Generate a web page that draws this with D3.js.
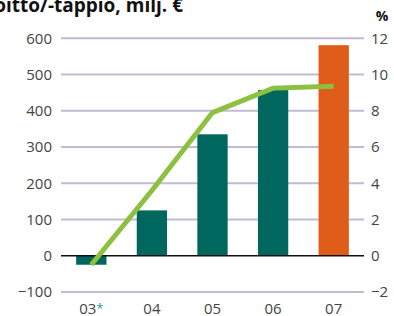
<!DOCTYPE html>
<html>
<head>
<meta charset="utf-8">
<script src="https://cdn.jsdelivr.net/npm/d3@7"></script>
<style>
  body { margin: 0; background: #fff; }
  svg { display: block; font-family: "Open Sans", sans-serif; }
</style>
</head>
<body>
<script>
const w = 394;
const h = 316;

const years = ["03", "04", "05", "06", "07"];
const profit = [-25, 125, 335, 457, 581];
const percent = [-0.5, 3.6, 7.9, 9.25, 9.35];
const leftTicks = [-100, 0, 100, 200, 300, 400, 500, 600];
const rightTicks = [-2, 0, 2, 4, 6, 8, 10, 12];

const teal = "#00675f";
const orange = "#df5c19";
const green = "#8cc040";
const grid = "#c2bbd2";
const tickColor = "#444";

const x = d3.scaleBand()
  .domain(years)
  .range([61, 364])
  .paddingInner(0.5)
  .paddingOuter(0.25);

const y = d3.scaleLinear().domain([-100, 600]).range([291.9, 38.3]);
const y2 = d3.scaleLinear().domain([-2, 12]).range([291.9, 38.3]);

const svg = d3.select("body").append("svg")
  .attr("width", w)
  .attr("height", h);

// title, cut at the top like the original
svg.append("text")
  .attr("x", 183)
  .attr("y", 12)
  .attr("text-anchor", "end")
  .attr("font-size", "19px")
  .attr("font-weight", "bold")
  .attr("fill", "#111")
  .text("Liikevoitto/-tappio, milj. €");

svg.append("text")
  .attr("x", 382)
  .attr("y", 21)
  .attr("text-anchor", "middle")
  .attr("font-size", "14px")
  .attr("font-weight", "bold")
  .attr("fill", "#111")
  .text("%");

// grid lines
svg.selectAll(".grid")
  .data(leftTicks.filter(d => d !== 0))
  .enter()
  .append("line")
  .attr("class", "grid")
  .attr("x1", 61)
  .attr("x2", 364)
  .attr("y1", d => y(d))
  .attr("y2", d => y(d))
  .attr("stroke", grid)
  .attr("stroke-width", 2);

// left axis labels
const yAxis = d3.axisLeft(y).tickValues(leftTicks).tickSize(0).tickPadding(0)
  .tickFormat(d => d < 0 ? "\u2212" + Math.abs(d) : d);
const gl = svg.append("g").attr("transform", "translate(52,0)").call(yAxis);
gl.select(".domain").remove();
gl.selectAll("text").attr("font-size", "15px").attr("fill", tickColor)
  .attr("font-family", "Open Sans, sans-serif");

// right axis labels
const yAxis2 = d3.axisRight(y2).tickValues(rightTicks).tickSize(0).tickPadding(0)
  .tickFormat(d => d < 0 ? "\u2212" + Math.abs(d) : d);
const gr = svg.append("g").attr("transform", "translate(371,0)").call(yAxis2);
gr.select(".domain").remove();
gr.selectAll("text").attr("font-size", "15px").attr("fill", tickColor)
  .attr("font-family", "Open Sans, sans-serif");

// bars
svg.selectAll(".bar")
  .data(profit)
  .enter()
  .append("rect")
  .attr("class", "bar")
  .attr("x", (d, i) => x(years[i]))
  .attr("y", d => y(Math.max(0, d)))
  .attr("width", x.bandwidth())
  .attr("height", d => Math.abs(y(d) - y(0)))
  .attr("fill", (d, i) => i === years.length - 1 ? orange : teal);

// zero line
svg.append("line")
  .attr("x1", 61)
  .attr("x2", 364)
  .attr("y1", y(0))
  .attr("y2", y(0))
  .attr("stroke", "#111")
  .attr("stroke-width", 1.5);

// percent line
const line = d3.line()
  .x((d, i) => x(years[i]) + x.bandwidth() / 2)
  .y(d => y2(d));

svg.append("path")
  .datum(percent)
  .attr("d", line)
  .attr("fill", "none")
  .attr("stroke", green)
  .attr("stroke-width", 5);

// x labels
const xl = svg.selectAll(".xl")
  .data(years)
  .enter()
  .append("text")
  .attr("class", "xl")
  .attr("x", d => x(d) + x.bandwidth() / 2)
  .attr("y", 314)
  .attr("text-anchor", "middle")
  .attr("font-size", "15px")
  .attr("fill", tickColor);

xl.append("tspan").text(d => d);
xl.filter((d, i) => i === 0)
  .append("tspan")
  .attr("fill", "#2a9a90")
  .attr("font-size", "13px")
  .attr("dy", -1)
  .text("*");
</script>
</body>
</html>
